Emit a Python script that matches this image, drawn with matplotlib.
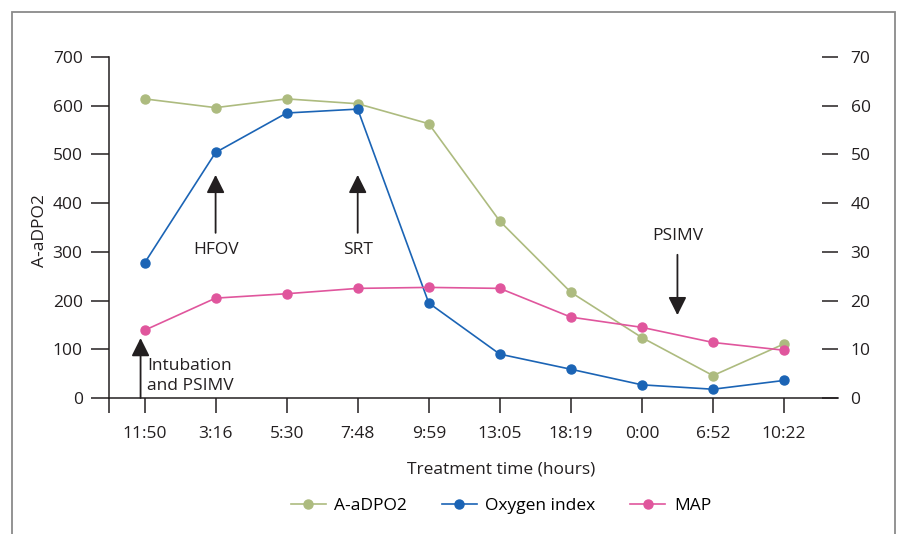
import matplotlib
matplotlib.use("Agg")
import matplotlib.pyplot as plt
from matplotlib.patches import Rectangle

plt.rcParams['font.family'] = ['Open Sans', 'DejaVu Sans']

times = ['11:50', '3:16', '5:30', '7:48', '9:59', '13:05', '18:19', '0:00', '6:52', '10:22']
aado2 = [614, 596, 614, 604, 563, 363, 217, 124, 46, 111]
oxygen_index = [27.7, 50.4, 58.5, 59.3, 19.5, 9.0, 5.9, 2.7, 1.8, 3.6]
map_vals = [13.9, 20.5, 21.4, 22.5, 22.7, 22.5, 16.6, 14.5, 11.4, 9.8]

green = '#adbb7f'
blue = '#1b64b5'
pink = '#e0569d'
dark = '#231f20'
fs = 12.5

fig = plt.figure(figsize=(8.98, 5.34), dpi=100)
fig.patches.append(Rectangle((0.0134, -0.02), 0.9833, 0.9975, transform=fig.transFigure,
                             fill=False, edgecolor='#8a8a8a', linewidth=1.3))

ax = fig.add_axes([0.1214, 0.2547, 0.8118, 0.6386])
ax2 = ax.twinx()

x = list(range(len(times)))
l1, = ax.plot(x, aado2, color=green, marker='o', markersize=6.5, linewidth=1.2, label='A-aDPO2', clip_on=False, zorder=3)
l2, = ax2.plot(x, oxygen_index, color=blue, marker='o', markersize=6.5, linewidth=1.2, label='Oxygen index', clip_on=False, zorder=3)
l3, = ax2.plot(x, map_vals, color=pink, marker='o', markersize=6.5, linewidth=1.2, label='MAP', clip_on=False, zorder=3)

ax.set_xlim(-0.5, 9.76)
ax.set_ylim(0, 700)
ax2.set_ylim(0, 70)
ax.set_yticks(range(0, 701, 100))
ax2.set_yticks(range(0, 71, 10))
ax.set_xticks([-0.5] + x)
ax.set_xticklabels([''] + times)

for a in (ax, ax2):
    for s in ('top', 'right'):
        a.spines[s].set_visible(False)
ax2.spines['left'].set_visible(False)
ax2.spines['bottom'].set_visible(False)
ax.spines['left'].set_color(dark)
ax.spines['bottom'].set_color(dark)
ax.spines['left'].set_linewidth(1.1)
ax.spines['bottom'].set_linewidth(1.1)

ax.tick_params(axis='y', direction='out', length=13, width=1.1, color=dark, labelsize=fs, labelcolor=dark, pad=6)
ax.tick_params(axis='x', direction='out', length=11, width=1.1, color=dark, labelsize=fs, labelcolor=dark, pad=9)
ax2.tick_params(axis='y', direction='in', length=11.5, width=1.1, color=dark, labelsize=fs, labelcolor=dark, pad=9)

fig.text(40 / 898, 1 - 231 / 534, 'A-aDPO2', rotation=90, ha='center', va='center', fontsize=fs, color=dark)
fig.text(501 / 898, 1 - 469 / 534, 'Treatment time (hours)', ha='center', va='center', fontsize=fs, color=dark)

arrow = dict(arrowstyle='-|>,head_length=11,head_width=5.5', mutation_scale=1, color=dark,
             linewidth=1.3, shrinkA=0, shrinkB=0)
ax.annotate('', xy=(1, 458), xytext=(1, 339), arrowprops=arrow)
ax.text(1, 304, 'HFOV', ha='center', va='center', fontsize=fs, color=dark)
ax.annotate('', xy=(3, 458), xytext=(3, 339), arrowprops=arrow)
ax.text(3, 304, 'SRT', ha='center', va='center', fontsize=fs, color=dark)
ax.annotate('', xy=(-0.056, 123), xytext=(-0.056, 0), arrowprops=arrow)
ax.text(0.04, 45, 'Intubation\nand PSIMV', ha='left', va='center', fontsize=fs, color=dark, linespacing=1.35)
ax.annotate('', xy=(7.5, 170), xytext=(7.5, 294), arrowprops=arrow)
ax.text(7.5, 333, 'PSIMV', ha='center', va='center', fontsize=fs, color=dark)

fig.legend(handles=[l1, l2, l3], loc='center', bbox_to_anchor=(0.558, 0.052), ncol=3,
           frameon=False, fontsize=fs, handlelength=2, handletextpad=0.5, columnspacing=2)

fig.savefig('out.png', dpi=100)
